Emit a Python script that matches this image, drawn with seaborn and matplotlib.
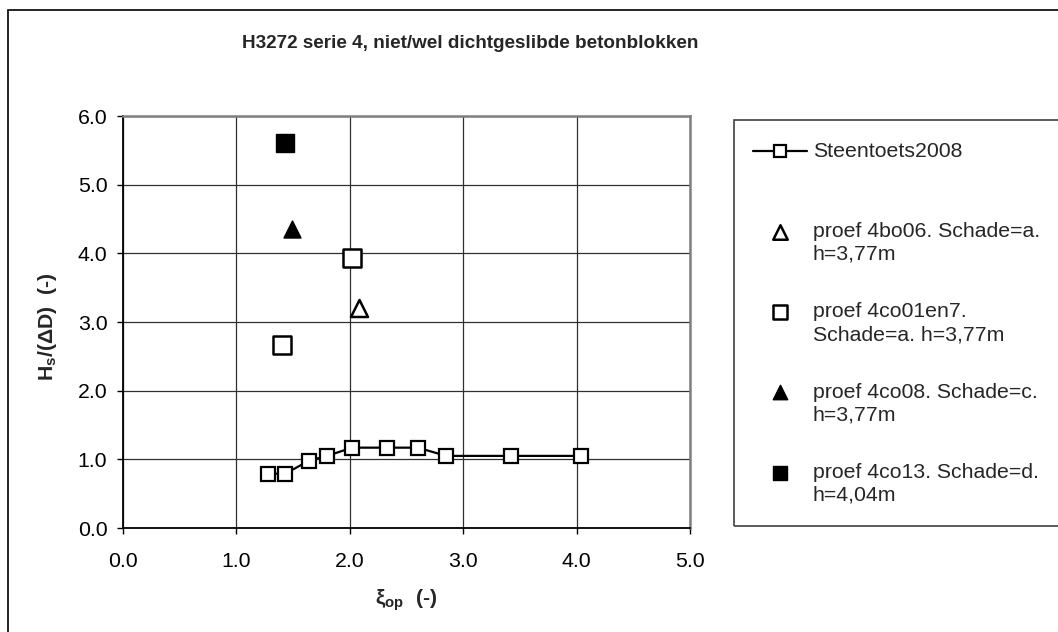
import matplotlib
matplotlib.use("Agg")
import matplotlib.pyplot as plt
from matplotlib.patches import Rectangle
import seaborn as sns
import pandas as pd

# Steentoets2008 prediction curve
xi_steentoets = [1.28, 1.43, 1.64, 1.80, 2.02, 2.33, 2.60, 2.85, 3.42, 4.04]
hs_steentoets = [0.79, 0.79, 0.98, 1.05, 1.17, 1.17, 1.17, 1.05, 1.05, 1.05]

# Measured tests
xi_4bo06 = [2.08]
hs_4bo06 = [3.20]
xi_4co01en7 = [1.40, 2.02]
hs_4co01en7 = [2.66, 3.93]
xi_4co08 = [1.49]
hs_4co08 = [4.36]
xi_4co13 = [1.43]
hs_4co13 = [5.61]

labels = [
    "Steentoets2008\n",
    "proef 4bo06. Schade=a.\nh=3,77m",
    "proef 4co01en7.\nSchade=a. h=3,77m",
    "proef 4co08. Schade=c.\nh=3,77m",
    "proef 4co13. Schade=d.\nh=4,04m",
]
x_ticks = [0.0, 1.0, 2.0, 3.0, 4.0, 5.0]
y_ticks = [0.0, 1.0, 2.0, 3.0, 4.0, 5.0, 6.0]

sns.set_theme(style="white")
plt.rcParams["font.family"] = ["Liberation Sans", "DejaVu Sans"]
plt.rcParams["mathtext.fontset"] = "custom"
plt.rcParams["mathtext.rm"] = "Liberation Sans"
plt.rcParams["mathtext.it"] = "Liberation Sans:italic"
plt.rcParams["mathtext.bf"] = "Liberation Sans:bold"

FS = 15.3
W, H = 1058, 632
fig = plt.figure(figsize=(W / 100, H / 100), dpi=100)
fig.patch.set_facecolor("white")

ax_l, ax_r, ax_t, ax_b = 123, 690, 116, 528
ax = fig.add_axes([ax_l / W, 1 - ax_b / H, (ax_r - ax_l) / W, (ax_b - ax_t) / H])

df_line = pd.DataFrame({"xi": xi_steentoets, "hs": hs_steentoets})
sns.lineplot(data=df_line, x="xi", y="hs", ax=ax, sort=False, estimator=None,
             color="black", lw=1.6, marker="s", markersize=9.5,
             markerfacecolor="white", markeredgecolor="black",
             markeredgewidth=1.6, label=labels[0], zorder=3)

sns.scatterplot(x=xi_4bo06, y=hs_4bo06, ax=ax, marker="^", s=150,
                facecolor="white", edgecolor="black", linewidth=1.8,
                label=labels[1], zorder=4)
sns.scatterplot(x=xi_4co01en7, y=hs_4co01en7, ax=ax, marker="s", s=150,
                facecolor="white", edgecolor="black", linewidth=1.8,
                label=labels[2], zorder=4)
sns.scatterplot(x=xi_4co08, y=hs_4co08, ax=ax, marker="^", s=150,
                facecolor="black", edgecolor="black", linewidth=1.0,
                label=labels[3], zorder=4)
sns.scatterplot(x=xi_4co13, y=hs_4co13, ax=ax, marker="s", s=150,
                facecolor="black", edgecolor="black", linewidth=1.0,
                label=labels[4], zorder=4)

ax.set_xlim(0, 5)
ax.set_ylim(0, 6)
ax.set_xticks(x_ticks)
ax.set_yticks(y_ticks)
ax.set_xticklabels([f"{v:.1f}" for v in x_ticks])
ax.set_yticklabels([f"{v:.1f}" for v in y_ticks])
ax.grid(True, color="#303030", lw=0.9)
ax.set_axisbelow(True)
for side in ["left", "bottom"]:
    ax.spines[side].set_color("black")
    ax.spines[side].set_linewidth(1.3)
for side in ["top", "right"]:
    ax.spines[side].set_color("#808080")
    ax.spines[side].set_linewidth(1.8)
ax.tick_params(axis="both", direction="out", length=4.3, width=1.0,
               color="black", labelsize=FS, labelcolor="black", left=True,
               bottom=True)
ax.tick_params(axis="y", pad=7)
ax.tick_params(axis="x", pad=13)

ax.set_xlabel(r"$\mathbf{\xi_{op}}$  (-)", fontsize=FS, fontweight="bold")
ax.set_ylabel(r"$\mathbf{H_s/(\Delta D)}$  (-)", fontsize=FS, fontweight="bold")
ax.xaxis.set_label_coords(0.5, -0.145)
ax.yaxis.set_label_coords(-0.113, 0.49)

fig.text(470 / W, 1 - 43 / H, "H3272 serie 4, niet/wel dichtgeslibde betonblokken",
         ha="center", va="center", fontsize=13.6, fontweight="bold")

# outer chart border and legend frame
fig.add_artist(Rectangle((8 / W, -0.1), 1.2, 1 - 10 / H + 0.1,
                         transform=fig.transFigure, fill=False,
                         edgecolor="black", lw=1.2, clip_on=False))
fig.add_artist(Rectangle((734 / W, 1 - 526 / H), 1.0, (526 - 120) / H,
                         transform=fig.transFigure, fill=False,
                         edgecolor="#404040", lw=1.2, clip_on=False))

handles, labs = ax.get_legend_handles_labels()
leg = ax.legend(handles, labs, loc="upper left",
                bbox_to_anchor=(753 / W, 1 - 142 / H),
                bbox_transform=fig.transFigure, frameon=False,
                fontsize=FS, borderpad=0, borderaxespad=0, markerscale=0.85,
                handlelength=54 / 21.3, handleheight=1.08,
                handletextpad=6 / 21.3, labelspacing=1.81)
for t in leg.get_texts():
    t.set_linespacing(1.25)
for col in leg._legend_handle_box.get_children():
    for row in col.get_children():
        row.align = "top"

fig.savefig("out.png", dpi=100, facecolor="white")
